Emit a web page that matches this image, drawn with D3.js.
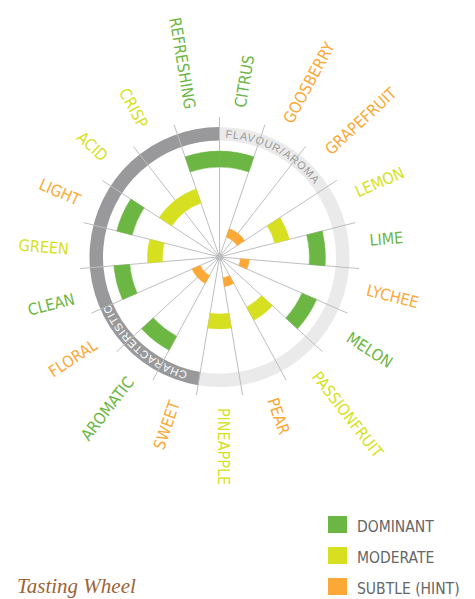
<!DOCTYPE html>
<html>
<head>
<meta charset="utf-8">
<style type="text/css">
	body {
		margin: 0;
		background: #ffffff;
	}
	.vis-wheel {
		width: 475px;
		height: 599px;
	}
	.label-wheel {
		font-family: "Liberation Sans Narrow", "DejaVu Sans Condensed", sans-serif;
		font-size: 16px;
	}
	.ring-label-wheel {
		font-family: "Liberation Sans", Arial, sans-serif;
		font-size: 11px;
		letter-spacing: 1px;
	}
	.legend-label-wheel {
		font-family: "Liberation Sans Narrow", "DejaVu Sans Condensed", sans-serif;
		font-size: 15.5px;
		fill: #666666;
	}
	.title-wheel {
		font-family: "Liberation Serif", "DejaVu Serif", serif;
		font-style: italic;
		font-size: 21px;
		fill: #9c6437;
	}
</style>
</head>
<body>

<div class="vis-wheel"></div>

<script src="https://cdnjs.cloudflare.com/ajax/libs/d3/7.8.5/d3.min.js"></script>

<script>

	// Data //
	// ---- //

	// clockwise from the top
	const categories = ["CITRUS", "GOOSBERRY", "GRAPEFRUIT", "LEMON", "LIME", "LYCHEE", "MELON",
		"PASSIONFRUIT", "PEAR", "PINEAPPLE", "SWEET", "AROMATIC", "FLORAL", "CLEAN", "GREEN",
		"LIGHT", "ACID", "CRISP", "REFRESHING"];

	// colour of each label
	const labelLevels = ["dominant", "subtle", "subtle", "moderate", "dominant", "subtle", "dominant",
		"moderate", "subtle", "moderate", "subtle", "dominant", "subtle", "dominant", "moderate",
		"subtle", "moderate", "moderate", "dominant"];

	// arcs drawn in each band
	const dominant = ["CITRUS", "LIME", "MELON", "AROMATIC", "CLEAN", "LIGHT", "REFRESHING"];
	const moderate = ["LEMON", "PASSIONFRUIT", "PINEAPPLE", "GREEN", "ACID", "CRISP"];
	const subtle = ["GOOSBERRY", "GRAPEFRUIT", "LYCHEE", "PEAR", "AROMATIC", "FLORAL"];

	// outer ring groups
	const groupNames = ["FLAVOUR/AROMA", "CHARACTERISTIC"];
	const groupFirst = ["CITRUS", "SWEET"];
	const groupLast = ["PINEAPPLE", "REFRESHING"];

	const levels = ["dominant", "moderate", "subtle"];
	const legendLabels = ["DOMINANT", "MODERATE", "SUBTLE (HINT)"];

	function wheelvis() {

		// Setup //
		// ----- //

		let width = 475,
			height = 599;
		let cx = 219.5,
			cy = 257;

		let ringInner = 116.5,
			ringOuter = 130,
			spokeLength = 140,
			labelRadius = 151,
			labelShift = -1.7;   // degrees, labels sit a bit anticlockwise

		// Scales
		let angle = d3.scaleBand()
			.domain(categories)
			.range([0, 2 * Math.PI]);

		let color = d3.scaleOrdinal()
			.domain(levels)
			.range(["#6cb644", "#d7df21", "#fba837"]);

		let bandInner = d3.scaleOrdinal()
			.domain(levels)
			.range([90, 57, 21]);
		let bandOuter = d3.scaleOrdinal()
			.domain(levels)
			.range([106, 72, 30]);

		let ringColor = d3.scaleOrdinal()
			.domain(groupNames)
			.range(["#eaeaea", "#99999b"]);
		let ringTextColor = d3.scaleOrdinal()
			.domain(groupNames)
			.range(["#9a9a9a", "#ffffff"]);

		let arc = d3.arc();

		let svg = d3.select(".vis-wheel")
			.append("svg")
				.attr("width", width)
				.attr("height", height);

		let wheel = svg.append("g")
			.attr("transform", "translate(" + cx + "," + cy + ")");

		// Outer ring //
		// ---------- //

		let groups = groupNames.map((g, i) => ({
			name: g,
			start: angle(groupFirst[i]),
			end: angle(groupLast[i]) + angle.bandwidth()
		}));

		wheel.selectAll(".ring-wheel")
			.data(groups).enter().append("path")
			.attr("class", "ring-wheel")
			.attr("d", d => arc({
				innerRadius: ringInner,
				outerRadius: ringOuter,
				startAngle: d.start,
				endAngle: d.end
			}))
			.style("fill", d => ringColor(d.name));

		// paths for the ring text, clockwise
		let rMid = (ringInner + ringOuter) / 2;
		wheel.selectAll(".ring-path-wheel")
			.data(groups).enter().append("path")
			.attr("class", "ring-path-wheel")
			.attr("id", (d, i) => "ringpath" + i)
			.attr("d", d => {
				let p = d3.path();
				p.arc(0, 0, rMid, d.start - Math.PI / 2, d.end - Math.PI / 2, false);
				return p.toString();
			})
			.style("fill", "none");

		wheel.selectAll(".ring-label-wheel")
			.data(groups).enter().append("text")
			.attr("class", "ring-label-wheel")
			.attr("dy", "0.36em")
			.style("fill", d => ringTextColor(d.name))
			.append("textPath")
				.attr("href", (d, i) => "#ringpath" + i)
				.attr("startOffset", (d, i) => i == 0 ? 6 : 13)
				.text(d => d.name);

		// Spokes //
		// ------ //

		wheel.selectAll(".spoke-wheel")
			.data(categories).enter().append("line")
			.attr("class", "spoke-wheel")
			.attr("x1", 0)
			.attr("y1", 0)
			.attr("x2", d => spokeLength * Math.sin(angle(d)))
			.attr("y2", d => -spokeLength * Math.cos(angle(d)))
			.style("stroke", "#bdbec0")
			.style("stroke-width", 1);

		// Level arcs //
		// ---------- //

		let marks = [];
		dominant.forEach(c => marks.push({cat: c, level: "dominant"}));
		moderate.forEach(c => marks.push({cat: c, level: "moderate"}));
		subtle.forEach(c => marks.push({cat: c, level: "subtle"}));

		wheel.selectAll(".level-wheel")
			.data(marks).enter().append("path")
			.attr("class", "level-wheel")
			.attr("d", d => arc({
				innerRadius: bandInner(d.level),
				outerRadius: bandOuter(d.level),
				startAngle: angle(d.cat),
				endAngle: angle(d.cat) + angle.bandwidth()
			}))
			.style("fill", d => color(d.level))
			.style("stroke", d => color(d.level))
			.style("stroke-width", 0.5);

		// centre dot
		wheel.append("circle")
			.attr("r", 3.6)
			.style("fill", "#bdbec0");

		// Category labels //
		// --------------- //

		function midAngle(d) {
			return (angle(d) + angle.bandwidth() / 2) * 180 / Math.PI;
		}

		wheel.selectAll(".label-wheel")
			.data(categories).enter().append("text")
			.attr("class", "label-wheel")
			.attr("transform", d => {
				let a = midAngle(d);
				let rad = (a + labelShift) * Math.PI / 180;
				let x = labelRadius * Math.sin(rad),
					y = -labelRadius * Math.cos(rad);
				let rot = a < 180.01 ? a - 90 : a + 90;
				return "translate(" + x + "," + y + ") rotate(" + rot + ")";
			})
			.attr("dy", "0.36em")
			.style("text-anchor", d => midAngle(d) < 180.01 ? "start" : "end")
			.style("fill", (d, i) => color(labelLevels[i]))
			.text(d => d);

		// Legend //
		// ------ //

		let legend = svg.append("g")
			.attr("transform", "translate(328,516)");

		let legendY = d3.scalePoint()
			.domain(levels)
			.range([0, 62]);

		legend.selectAll(".legend-swatch-wheel")
			.data(levels).enter().append("rect")
			.attr("class", "legend-swatch-wheel")
			.attr("x", 0)
			.attr("y", d => legendY(d))
			.attr("width", 19)
			.attr("height", 17)
			.style("fill", d => color(d));

		legend.selectAll(".legend-label-wheel")
			.data(levels).enter().append("text")
			.attr("class", "legend-label-wheel")
			.attr("x", 29)
			.attr("y", d => legendY(d) + 16)
			.text((d, i) => legendLabels[i]);

		// Title
		svg.append("text")
			.attr("class", "title-wheel")
			.attr("x", 17)
			.attr("y", 593)
			.text("Tasting Wheel");
	}

	wheelvis();
</script>
</body>
</html>
